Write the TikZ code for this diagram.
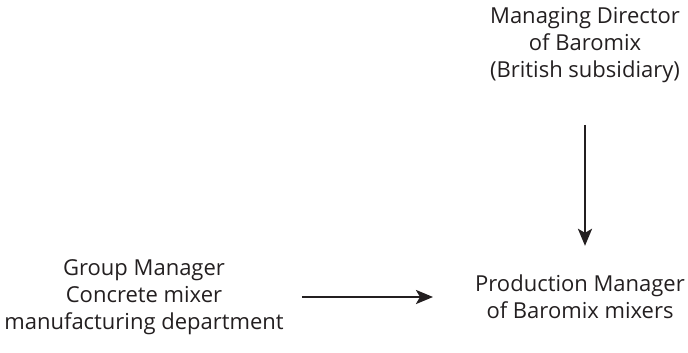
\documentclass[tikz,border=0pt]{standalone}
\usepackage{fontspec}
\setmainfont{Open Sans}
\usetikzlibrary{arrows.meta}
\definecolor{cink}{RGB}{35,31,32}

\begin{document}
\begin{tikzpicture}[x=1pt,y=-1pt,
    role/.style={align=center,font=\fontsize{22}{27}\selectfont,text=cink,inner sep=0pt},
    link/.style={-{Stealth[length=17pt,width=14pt,inset=4pt]},line width=2.6pt,draw=cink}]

\useasboundingbox (0,0) rectangle (688,353);

\node[role] (md) at (585,45) {Managing Director\\of Baromix\\(British subsidiary)};
\node[role] (gm) at (144,297) {Group Manager\\Concrete mixer\\manufacturing department};
\node[role] (pm) at (580,297) {Production Manager\\of Baromix mixers};

\draw[link,shorten <=42pt,shorten >=29pt] (md.south) -- (md.south |- pm.north);
\draw[link,shorten <=18pt,shorten >=42pt] (gm.east) -- (pm.west);

\end{tikzpicture}
\end{document}
